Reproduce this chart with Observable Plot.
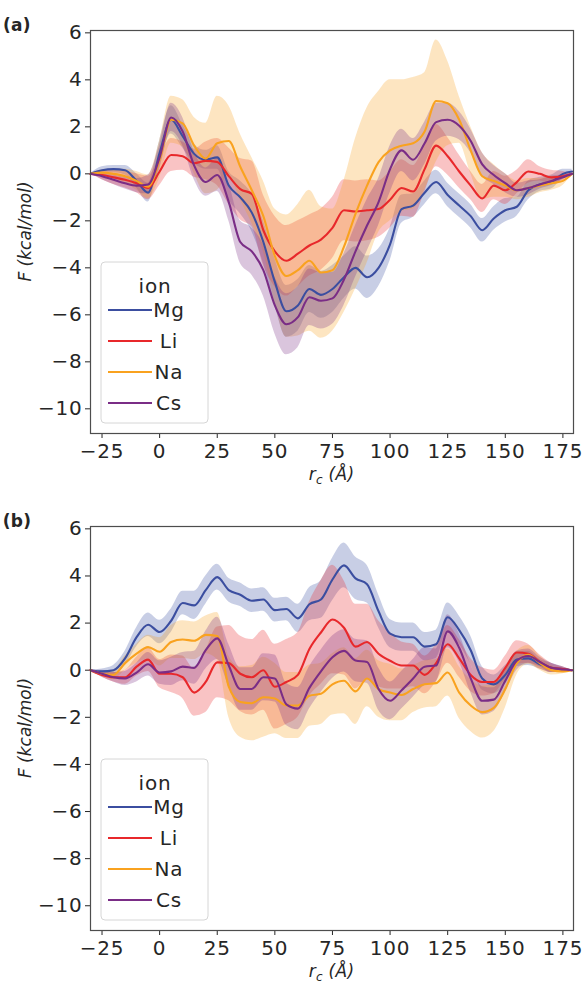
<!DOCTYPE html>
<html>
<head>
<meta charset="utf-8">
<script src="https://cdn.jsdelivr.net/npm/d3@7"></script>
<script src="https://cdn.jsdelivr.net/npm/@observablehq/plot@0.6"></script>
<style>
  html, body { margin: 0; padding: 0; background: #fff; }
  #root { width: 582px; font-family: "DejaVu Sans", sans-serif; }
  #root svg { display: block; }
</style>
</head>
<body>
<div id="root"></div>
<script>
// ---------- data ----------
const ions = ["Mg", "Li", "Na", "Cs"];
const ionColors = ["#3b4ea0", "#e8282b", "#f9a21f", "#7a2d86"];
const panelLabels = ["(a)", "(b)"];
const xTicks = [-25, 0, 25, 50, 75, 100, 125, 150, 175];
const yTicks = [-10, -8, -6, -4, -2, 0, 2, 4, 6];

const rc = [-30,-25,-20,-15,-10,-5,0,5,10,15,20,25,30,35,40,45,50,55,60,65,70,75,80,85,90,95,100,105,110,115,120,125,130,135,140,145,150,155,160,165,170,175,179];

// panel (a): mean free energy and half-width of band
const mgA  = [0,0.15,0.2,0.15,-0.3,-0.8,0.9,2.3,1.6,0.85,0.6,0.7,-0.5,-1.0,-1.65,-2.9,-4.6,-5.85,-5.6,-4.9,-5.15,-4.9,-4.4,-4.0,-4.4,-4.0,-3.0,-1.5,-1.35,-0.8,-0.35,-0.9,-1.35,-1.8,-2.4,-1.9,-1.55,-1.4,-0.7,-0.45,-0.35,0.0,0.1];
const mgAe = [0,0.15,0.15,0.2,0.3,0.4,0.5,0.6,0.5,0.4,0.4,0.5,0.6,0.7,0.8,0.9,1.0,1.1,1.1,1.0,1.0,1.0,0.9,0.9,0.9,0.8,0.7,0.6,0.5,0.5,0.5,0.5,0.5,0.5,0.5,0.5,0.5,0.4,0.4,0.3,0.3,0.2,0.1];
const liA  = [0,-0.05,-0.15,-0.25,-0.4,-0.6,0.1,0.8,0.75,0.45,0.55,0.5,-0.1,-0.65,-0.85,-2.4,-3.3,-3.7,-3.4,-3.05,-2.8,-2.3,-1.55,-1.6,-1.55,-1.5,-1.1,-0.6,-0.75,0.2,1.2,0.75,0.1,-0.5,-1.05,-0.5,-0.7,-0.35,0.1,0.0,-0.15,-0.1,0];
const liAe = [0,0.2,0.3,0.35,0.4,0.5,0.6,0.7,0.6,0.6,0.8,1.0,1.2,1.3,1.4,1.5,1.5,1.5,1.4,1.3,1.3,1.3,1.3,1.3,1.3,1.2,1.2,1.2,1.1,1.0,0.9,0.8,0.7,0.6,0.6,0.6,0.6,0.5,0.5,0.3,0.3,0.2,0];
const naA  = [0,0.05,0.0,-0.1,-0.3,-0.55,0.6,2.3,2.15,1.2,0.65,1.3,1.4,0.3,-0.7,-1.8,-3.5,-4.35,-4.1,-3.7,-4.2,-4.1,-3.1,-1.7,-0.5,0.5,1.0,1.2,1.3,1.8,3.1,3.0,2.3,1.0,-0.1,-0.3,-0.5,-0.7,-0.6,-0.5,-0.4,-0.3,0];
const naAe = [0,0.1,0.2,0.3,0.4,0.5,0.8,1.0,1.0,1.2,1.5,2.0,1.5,1.4,1.4,1.5,2.0,2.6,2.8,3.0,2.8,2.6,2.8,3.2,3.3,3.0,3.0,2.8,2.8,2.5,2.6,1.8,1.0,1.0,1.0,0.7,0.5,0.4,0.4,0.3,0.3,0.2,0];
const csA  = [0,-0.1,-0.25,-0.4,-0.5,-0.45,0.7,2.4,1.8,0.35,-0.35,-0.05,-1.2,-2.9,-3.3,-4.1,-5.6,-6.4,-6.1,-5.25,-5.4,-5.3,-4.5,-3.3,-2.2,-1.2,0.2,1.0,0.6,1.3,2.2,2.3,2.05,1.4,0.4,-0.05,-0.4,-0.7,-0.6,-0.45,-0.3,-0.15,0];
const csAe = [0,0.15,0.2,0.25,0.3,0.4,0.5,0.6,0.6,0.6,0.6,0.7,0.8,0.9,1.0,1.1,1.2,1.3,1.3,1.2,1.2,1.1,1.1,1.1,1.1,1.0,1.0,0.9,0.9,0.9,0.8,0.7,0.6,0.5,0.5,0.4,0.4,0.3,0.3,0.2,0.2,0.1,0];

// panel (b)
const mgB  = [0,-0.05,0.0,0.5,1.4,1.93,1.62,2.1,2.85,2.75,3.4,3.95,3.4,3.2,2.95,3.0,2.55,2.6,2.2,2.8,3.0,3.85,4.45,3.9,3.65,2.5,1.55,1.4,1.4,1.0,1.1,2.25,1.7,0.85,-0.35,-0.6,-0.2,0.45,0.5,0.25,0.1,0.05,0];
const mgBe = [0,0.1,0.2,0.3,0.4,0.5,0.5,0.5,0.5,0.6,0.6,0.55,0.5,0.5,0.5,0.5,0.5,0.5,0.6,0.7,0.8,0.9,0.95,0.9,0.8,0.7,0.6,0.6,0.6,0.6,0.6,0.6,0.6,0.6,0.5,0.4,0.4,0.3,0.3,0.2,0.2,0.1,0];
const liB  = [0,-0.2,-0.3,-0.3,0.15,0.45,-0.15,-0.15,-0.3,-0.95,-0.5,0.33,0.3,-0.15,-0.3,0.0,-0.7,-0.5,-0.2,0.9,1.6,2.15,1.8,1.0,1.2,0.7,0.4,0.2,0.2,-0.2,0.3,1.1,0.5,-0.2,-0.5,-0.5,0.1,0.75,0.7,0.35,0.1,0.05,0];
const liBe = [0,0.1,0.2,0.3,0.4,0.5,0.6,0.8,0.9,1.0,1.3,1.5,1.6,1.6,1.6,1.7,1.8,1.8,1.8,2.0,2.2,2.3,2.0,1.8,1.6,1.4,1.2,1.0,0.9,0.8,0.8,0.8,0.8,0.7,0.6,0.5,0.5,0.5,0.4,0.3,0.2,0.1,0];
const naB  = [0,-0.15,-0.2,0.3,0.7,0.98,0.78,1.2,1.3,1.25,1.5,1.45,-0.7,-1.35,-1.4,-1.15,-1.2,-1.5,-1.5,-1.08,-1.0,-0.6,-0.45,-0.9,-0.35,-0.8,-0.95,-1.05,-0.8,-0.6,-0.55,-0.1,-0.95,-1.5,-1.78,-1.6,-0.8,0.3,0.65,0.3,0.0,-0.05,0];
const naBe = [0,0.1,0.2,0.3,0.4,0.5,0.6,0.7,0.8,0.8,0.8,1.0,1.3,1.5,1.6,1.7,1.5,1.4,1.4,1.3,1.3,1.3,1.4,1.4,1.2,1.2,1.2,1.1,1.0,1.0,1.0,1.0,1.1,1.1,1.1,1.0,0.8,0.5,0.4,0.3,0.2,0.1,0];
const csB  = [0,-0.15,-0.3,-0.35,-0.1,0.25,-0.1,-0.05,0.15,0.1,0.85,1.35,0.2,-0.8,-0.8,-0.3,-0.35,-1.45,-1.63,-0.75,-0.05,0.55,0.82,0.41,0.35,-0.8,-1.3,-0.85,-0.35,0.15,0.2,1.65,0.95,-0.35,-1.3,-1.25,-0.45,0.4,0.6,0.35,0.1,0.03,0];
const csBe = [0,0.15,0.2,0.3,0.4,0.5,0.5,0.6,0.6,0.7,0.8,0.9,0.9,0.9,0.9,1.0,1.0,0.9,0.9,0.9,0.9,0.9,0.9,0.9,0.9,0.9,0.8,0.8,0.8,0.8,0.7,0.7,0.6,0.6,0.6,0.5,0.5,0.4,0.3,0.2,0.2,0.1,0];

const panelA = [[mgA, mgAe], [liA, liAe], [naA, naAe], [csA, csAe]];
const panelB = [[mgB, mgBe], [liB, liBe], [naB, naBe], [csB, csBe]];

// ---------- drawing ----------
const fmt = d => (d < 0 ? "\u2212" + Math.abs(d) : String(d));
const FONT = "DejaVu Sans";

function buildRows(series) {
  const rows = [];
  ions.forEach((ion, i) => {
    const [m, e] = series[i];
    rc.forEach((x, j) => rows.push({ion, x, y: m[j], lo: m[j] - e[j], hi: m[j] + e[j]}));
  });
  return rows;
}

function panel(series, label, height, marginBottom) {
  const rows = buildRows(series);
  const marginTop = 30, marginLeft = 90, marginRight = 9;
  const chart = Plot.plot({
    width: 582, height, marginTop, marginBottom, marginLeft, marginRight,
    style: {fontFamily: FONT, fontSize: "20px", color: "#262626", background: "#fff", overflow: "visible"},
    x: {domain: [-30, 179.6], ticks: xTicks, tickFormat: fmt, tickSize: 5, tickPadding: 5, label: null},
    y: {domain: [-11.05, 6.1], ticks: yTicks, tickFormat: fmt, tickSize: 5, tickPadding: 3, label: null},
    color: {domain: ions, range: ionColors},
    marks: [
      Plot.areaY(rows, {x: "x", y1: "lo", y2: "hi", z: "ion", fill: "ion", fillOpacity: 0.28, curve: "monotone-x"}),
      Plot.lineY(rows, {x: "x", y: "y", z: "ion", stroke: "ion", strokeWidth: 2.1, curve: "monotone-x"}),
      Plot.frame({stroke: "#4d4d4d", strokeWidth: 1.2})
    ]
  });
  const svg = d3.select(chart);
  svg.style("letter-spacing", "0.8px");
  const frameBottom = height - marginBottom;
  const cx = (marginLeft + 582 - marginRight) / 2;
  const cy = (marginTop + frameBottom) / 2;

  // panel letter
  svg.append("text").attr("x", 17).attr("y", 31)
    .attr("font-family", FONT).attr("font-weight", "bold").attr("font-size", 17)
    .attr("letter-spacing", 0.3)
    .attr("fill", "#262626").text(label);

  // y label
  svg.append("text").attr("transform", `translate(25,${cy}) rotate(-90)`)
    .attr("text-anchor", "middle").attr("dy", "0.35em")
    .attr("font-family", FONT).attr("font-style", "italic").attr("font-size", 17)
    .attr("letter-spacing", 0)
    .attr("fill", "#262626").text("F (kcal/mol)");

  // x label
  const xl = svg.append("text").attr("x", cx).attr("y", frameBottom + 47)
    .attr("text-anchor", "middle")
    .attr("font-family", FONT).attr("font-style", "italic").attr("font-size", 17)
    .attr("letter-spacing", 0.3)
    .attr("fill", "#262626");
  xl.append("tspan").text("r");
  xl.append("tspan").attr("font-size", 12).attr("dy", 4).text("c");
  xl.append("tspan").attr("dy", -4).text(" (Å)");

  // legend
  const top = frameBottom - 171;
  const g = svg.append("g").attr("font-family", FONT).attr("font-size", 20).attr("fill", "#262626");
  g.append("rect").attr("x", 101).attr("y", top).attr("width", 107).attr("height", 161)
    .attr("rx", 4).attr("fill", "rgba(255,255,255,0.8)").attr("stroke", "#d6d6d6");
  g.append("text").attr("x", 155).attr("y", top + 24).attr("dy", "0.35em")
    .attr("text-anchor", "middle").text("ion");
  ions.forEach((ion, i) => {
    const ly = top + 48 + i * 31;
    g.append("line").attr("x1", 108).attr("x2", 152).attr("y1", ly).attr("y2", ly)
      .attr("stroke", ionColors[i]).attr("stroke-width", 2);
    g.append("text").attr("x", 169).attr("y", ly).attr("dy", "0.35em").text(ion);
  });
  return chart;
}

const root = document.getElementById("root");
root.appendChild(panel(panelA, panelLabels[0], 496, 63));
root.appendChild(panel(panelB, panelLabels[1], 487, 53));
</script>
</body>
</html>
